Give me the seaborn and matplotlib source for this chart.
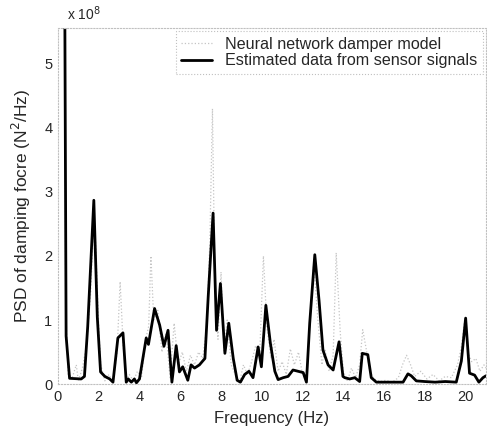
import matplotlib
matplotlib.use("Agg")
import matplotlib.pyplot as plt
import seaborn as sns
import pandas as pd

# PSD values in units of 1e8 N^2/Hz
freq_est = [0.31, 0.40, 0.57, 1.14, 1.30, 1.46, 1.76, 1.93, 2.09, 2.30, 2.54, 2.70,
            2.94, 3.19, 3.35, 3.45, 3.60, 3.75, 3.85, 4.00, 4.33, 4.44, 4.74, 4.99,
            5.20, 5.40, 5.59, 5.80, 5.96, 6.12, 6.37, 6.53, 6.70, 6.94, 7.10, 7.21,
            7.37, 7.61, 7.78, 7.97, 8.19, 8.38, 8.60, 8.79, 8.95, 9.16, 9.37, 9.57,
            9.82, 9.98, 10.20, 10.42, 10.64, 10.80, 11.05, 11.29, 11.53, 11.78, 12.03,
            12.19, 12.35, 12.60, 12.81, 13.00, 13.25, 13.50, 13.79, 13.98, 14.07, 14.31,
            14.56, 14.80, 14.93, 15.20, 15.37, 15.62, 16.93, 17.17, 17.33, 17.58, 17.99,
            18.50, 19.00, 19.54, 19.79, 20.00, 20.19, 20.44, 20.65, 20.85, 21.00]
psd_est = [8.0, 0.75, 0.09, 0.08, 0.12, 0.90, 2.87, 1.05, 0.19, 0.12, 0.08, 0.03,
           0.72, 0.80, 0.03, 0.08, 0.03, 0.08, 0.02, 0.08, 0.72, 0.62, 1.18, 0.92,
           0.59, 0.84, 0.03, 0.60, 0.19, 0.27, 0.06, 0.30, 0.25, 0.30, 0.36, 0.40,
           1.36, 2.67, 0.84, 1.57, 0.48, 0.95, 0.40, 0.06, 0.03, 0.15, 0.20, 0.10,
           0.58, 0.27, 1.23, 0.64, 0.20, 0.07, 0.10, 0.12, 0.22, 0.20, 0.18,
           0.03, 0.95, 2.02, 1.30, 0.53, 0.30, 0.22, 0.66, 0.12, 0.10, 0.08,
           0.10, 0.04, 0.48, 0.46, 0.10, 0.03, 0.03, 0.16, 0.13, 0.05, 0.04,
           0.03, 0.04, 0.03, 0.36, 1.03, 0.17, 0.14, 0.03, 0.10, 0.13]

freq_nn = [0.30, 0.38, 0.50, 0.70, 0.90, 1.00, 1.20, 1.40, 1.60, 1.75, 1.85, 2.00,
           2.10, 2.30, 2.50, 2.70, 2.90, 3.05, 3.20, 3.35, 3.50, 3.70, 3.90, 4.10,
           4.30, 4.45, 4.56, 4.70, 4.90, 5.10, 5.30, 5.50, 5.70, 5.90, 6.10, 6.30,
           6.50, 6.70, 6.90, 7.10, 7.30, 7.45, 7.58, 7.70, 7.85, 8.00, 8.15, 8.30,
           8.50, 8.70, 8.90, 9.10, 9.30, 9.50, 9.70, 9.90, 10.08, 10.25, 10.45, 10.60,
           10.80, 11.00, 11.20, 11.40, 11.60, 11.80, 12.00, 12.20, 12.40, 12.55, 12.75,
           12.95, 13.10, 13.30, 13.50, 13.65, 13.85, 14.00, 14.20, 14.40, 14.60, 14.80,
           14.95, 15.15, 15.30, 15.50, 15.80, 16.10, 16.40, 16.70, 16.90, 17.10, 17.30,
           17.50, 17.80, 18.10, 18.40, 18.70, 19.00, 19.30, 19.60, 19.80, 19.95, 20.10,
           20.30, 20.50, 20.70, 20.90, 21.00]
psd_nn = [8.0, 1.2, 0.15, 0.10, 0.30, 0.05, 0.25, 0.60, 1.40, 2.55, 2.20, 0.90,
          0.30, 0.05, 0.15, 0.02, 0.50, 1.60, 0.60, 0.05, 0.15, 0.05, 0.20, 0.10,
          0.70, 0.90, 2.00, 1.00, 1.15, 0.50, 0.80, 0.10, 0.95, 0.30, 0.50, 0.20,
          0.45, 0.30, 0.50, 0.40, 0.90, 2.20, 4.30, 1.50, 0.70, 1.75, 0.50, 1.00,
          0.30, 0.15, 0.02, 0.30, 0.15, 0.35, 0.60, 0.50, 2.00, 0.90, 0.40, 0.70,
          0.20, 0.35, 0.15, 0.55, 0.30, 0.50, 0.15, 0.05, 1.20, 1.90, 1.00,
          0.30, 0.55, 0.20, 0.45, 2.05, 0.80, 0.20, 0.05, 0.25, 0.10, 0.30,
          0.85, 0.50, 0.20, 0.08, 0.04, 0.06, 0.03, 0.10, 0.30, 0.45, 0.30,
          0.12, 0.20, 0.08, 0.15, 0.05, 0.12, 0.10, 0.30, 0.60, 1.00, 0.50,
          0.35, 0.40, 0.20, 0.30, 0.25]

x_ticks = [0, 2, 4, 6, 8, 10, 12, 14, 16, 18, 20]
y_ticks = [0, 1, 2, 3, 4, 5]

sns.set_style("white")
plt.rcParams["font.family"] = ["Liberation Sans", "DejaVu Sans"]

fig = plt.figure(figsize=(4.87, 4.34), dpi=100)
ax = fig.add_axes([0.119, 0.115, 0.879, 0.8205])

df_nn = pd.DataFrame({"f": freq_nn, "psd": psd_nn})
df_est = pd.DataFrame({"f": freq_est, "psd": psd_est})
sns.lineplot(data=df_nn, x="f", y="psd", ax=ax, color="#c4c4c4", linestyle=":",
             linewidth=0.9, estimator=None, label="Neural network damper model")
sns.lineplot(data=df_est, x="f", y="psd", ax=ax, color="black", linewidth=2.0,
             estimator=None, label="Estimated data from sensor signals")

ax.set_xlim(0, 21)
ax.set_ylim(0, 5.56)
ax.set_xticks(x_ticks)
ax.set_yticks(y_ticks)
ax.tick_params(direction="in", length=3, labelsize=10.5, color="#bbbbbb", pad=4)
for s in ax.spines.values():
    s.set_color("#c0c0c0")
    s.set_linestyle(":")
    s.set_linewidth(0.8)

ax.set_xlabel("Frequency (Hz)", fontsize=12, labelpad=5)
ax.set_ylabel("PSD of damping focre (N$^2$/Hz)", fontsize=12.5, labelpad=8)
ax.text(0.02, 1.015, "x 10$^8$", transform=ax.transAxes, fontsize=10, ha="left", va="bottom")

leg = ax.legend(loc="upper right", fontsize=11.6, frameon=True, fancybox=False,
                borderaxespad=0.2, handlelength=1.9, handletextpad=0.8,
                borderpad=0.35, labelspacing=0.1)
leg.get_frame().set_edgecolor("#b0b0b0")
leg.get_frame().set_linestyle(":")
leg.get_frame().set_linewidth(0.8)

fig.savefig("out.png", dpi=100)
